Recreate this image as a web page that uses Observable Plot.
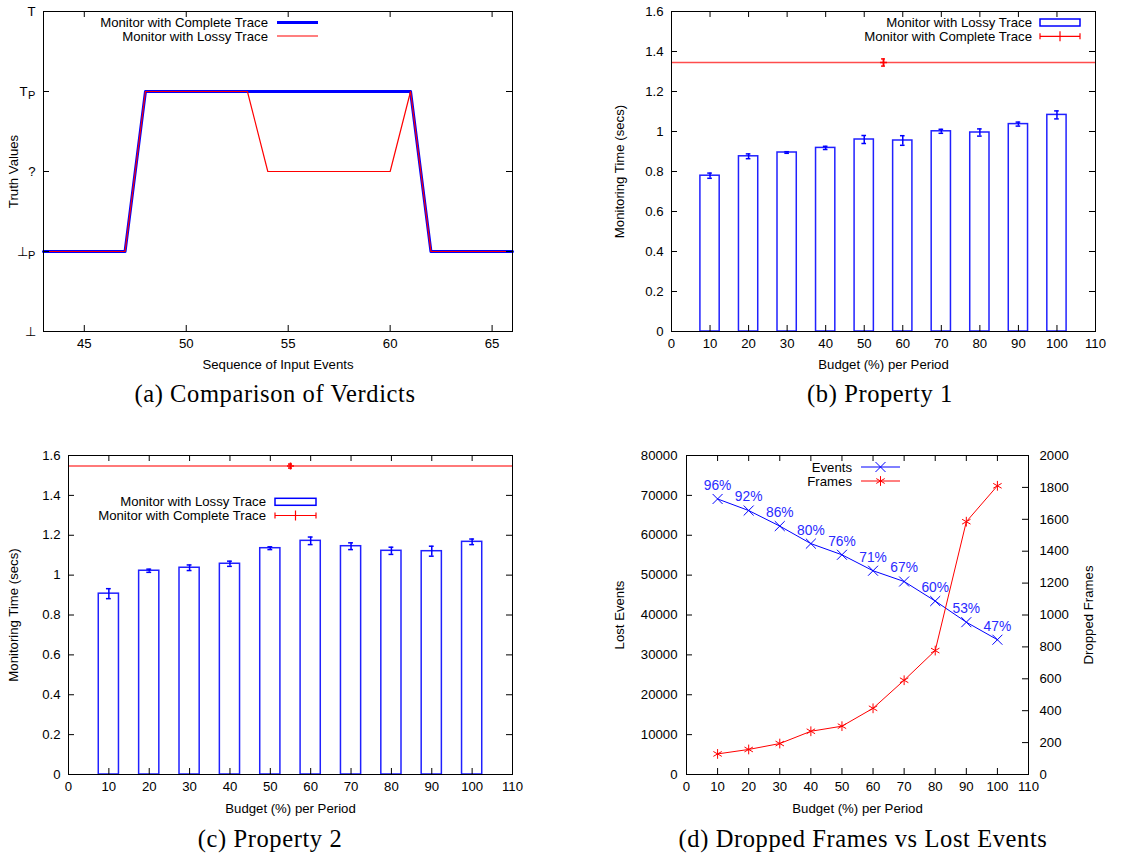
<!DOCTYPE html>
<html><head><meta charset="utf-8">
<script src="https://cdn.jsdelivr.net/npm/d3@7"></script>
<script src="https://cdn.jsdelivr.net/npm/@observablehq/plot@0.6"></script>
<style>
body{margin:0;background:#fff;}
#root{position:relative;width:1146px;height:855px;background:#fff;font-family:"Liberation Sans",Arial,sans-serif;}
.cap{position:absolute;font-family:"Liberation Serif","Times New Roman",serif;font-size:24.5px;letter-spacing:0.6px;transform:translate(-50%,-50%);white-space:nowrap;color:#000;}
</style></head><body><div id="root"></div>
<script>
// ---------- data ----------
// (a) verdicts
const verdictTickValues = [0, 1, 2, 3, 4];
const verdictTickMain = ["⊥", "⊥", "?", "T", "T"];
const verdictTickSub = ["", "P", "", "P", ""];
const eventTicks = [45, 50, 55, 60, 65];
const completeEvents = [43, 47, 48, 61, 62, 66];
const completeVerdicts = [1, 1, 3, 3, 1, 1];
const lossyEvents = [43, 47, 48, 53, 54, 60, 61, 62, 66];
const lossyVerdicts = [1, 1, 3, 3, 2, 2, 3, 1, 1];
const seriesA = ["Monitor with Complete Trace", "Monitor with Lossy Trace"];

// (b),(c) monitoring time
const budgets = [10, 20, 30, 40, 50, 60, 70, 80, 90, 100];
const budgetTicks = [0, 10, 20, 30, 40, 50, 60, 70, 80, 90, 100, 110];
const timeTicks = [0, 0.2, 0.4, 0.6, 0.8, 1, 1.2, 1.4, 1.6];
const p1Lossy = [0.779, 0.876, 0.895, 0.918, 0.960, 0.955, 1.001, 0.995, 1.037, 1.083];
const p1LossyErr = [0.013, 0.012, 0.004, 0.008, 0.020, 0.024, 0.010, 0.018, 0.010, 0.020];
const p1Complete = [1.345];
const p1CompleteErr = [0.018];
const p2Lossy = [0.907, 1.022, 1.037, 1.057, 1.135, 1.172, 1.145, 1.122, 1.120, 1.167];
const p2LossyErr = [0.025, 0.008, 0.014, 0.013, 0.007, 0.019, 0.017, 0.018, 0.025, 0.014];
const p2Complete = [1.547];
const p2CompleteErr = [0.010];
const completeBudgetPos = [55];
const seriesBC = ["Monitor with Lossy Trace", "Monitor with Complete Trace"];

// (d) lost events vs dropped frames
const lostEvents = [69100, 66200, 62300, 57900, 55100, 51100, 48400, 43500, 38200, 33800];
const eventPct = ["96%", "92%", "86%", "80%", "76%", "71%", "67%", "60%", "53%", "47%"];
const droppedFrames = [129, 157, 194, 271, 303, 415, 591, 777, 1585, 1810];
const eventTicksD = [0, 10000, 20000, 30000, 40000, 50000, 60000, 70000, 80000];
const frameTicksD = [0, 200, 400, 600, 800, 1000, 1200, 1400, 1600, 1800, 2000];
const seriesD = ["Events", "Frames"];

const captions = ["(a) Comparison of Verdicts", "(b) Property 1", "(c) Property 2", "(d) Dropped Frames vs Lost Events"];
const axisTitles = {
  aX: "Sequence of Input Events", aY: "Truth Values",
  bX: "Budget (%) per Period", bY: "Monitoring Time (secs)",
  dY: "Lost Events", dY2: "Dropped Frames"
};

// ---------- helpers ----------
const FONT = '"Liberation Sans", Arial, Helvetica, sans-serif';
const FS = 13.2;
const BLUE = "#0000ff", RED = "#ff0000";
const root = document.getElementById("root");

function place(node, left, top) {
  node.style.position = "absolute";
  node.style.left = left + "px";
  node.style.top = top + "px";
  root.appendChild(node);
  return node;
}
function tickMarks(xT, yL, yR, iw, ih, len = 6) {
  return [
    Plot.ruleX(xT, {x: d => d, insetTop: ih - len, stroke: "black"}),
    Plot.ruleX(xT, {x: d => d, insetBottom: ih - len, stroke: "black"}),
    Plot.ruleY(yL, {y: d => d, insetRight: iw - len, stroke: "black"}),
    Plot.ruleY(yR, {y: d => d, insetLeft: iw - len, stroke: "black"})
  ];
}
function legend(svg, rows, textEnd, x1, x2) {
  const g = d3.select(svg).append("g").attr("font-family", FONT).attr("font-size", FS);
  for (const r of rows) {
    g.append("text").attr("x", textEnd).attr("y", r.y).attr("dy", "0.35em")
      .attr("text-anchor", "end").attr("fill", "black").text(r.label);
    r.sample(g, x1, x2, r.y);
  }
}
const lineSample = (color, w) => (g, x1, x2, y) =>
  g.append("line").attr("x1", x1).attr("x2", x2).attr("y1", y).attr("y2", y).attr("stroke", color).attr("stroke-width", w);
const boxSample = (g, x1, x2, y) =>
  g.append("rect").attr("x", x1).attr("y", y - 3.5).attr("width", x2 - x1).attr("height", 7)
    .attr("fill", "white").attr("stroke", BLUE).attr("stroke-width", 1.5);
const errSample = (g, x1, x2, y) => {
  const m = (x1 + x2) / 2;
  const s = [[x1, y, x2, y], [x1, y - 3, x1, y + 3], [x2, y - 3, x2, y + 3], [m, y - 5, m, y + 5]];
  for (const [a, b, c, d] of s)
    g.append("line").attr("x1", a).attr("y1", b).attr("x2", c).attr("y2", d).attr("stroke", RED).attr("stroke-width", 1.2);
};
const markerSample = (color, sym) => (g, x1, x2, y) => {
  lineSample(color, 1)(g, x1, x2, y);
  g.append("path").attr("d", d3.symbol(sym, 67)()).attr("transform", `translate(${(x1 + x2) / 2},${y})`)
    .attr("fill", "none").attr("stroke", color).attr("stroke-width", 1);
};
function caption(text, cx, cy) {
  const d = document.createElement("div");
  d.className = "cap"; d.textContent = text;
  d.style.left = cx + "px"; d.style.top = cy + "px";
  root.appendChild(d);
}
const style = {fontFamily: FONT, fontSize: FS + "px", background: "white", overflow: "visible", color: "black"};
const xTitle = (t, dy) => Plot.text([t], {frameAnchor: "bottom", dy, text: d => d, textAnchor: "middle", lineAnchor: "middle"});
const yTitle = (t, side, dx) => Plot.text([t], {frameAnchor: side, dx, rotate: -90, text: d => d, textAnchor: "middle", lineAnchor: "middle"});

// ---------- panel (a) ----------
{
  const W = 530, H = 380, m = {top: 11, right: 18, bottom: 49, left: 43};
  const iw = W - m.left - m.right, ih = H - m.top - m.bottom;
  const svg = Plot.plot({
    width: W, height: H, marginTop: m.top, marginRight: m.right, marginBottom: m.bottom, marginLeft: m.left,
    style, x: {domain: [43, 66]}, y: {domain: [0, 4], axis: null},
    marks: [
      Plot.line(completeEvents, {x: d => d, y: (d, i) => completeVerdicts[i], stroke: BLUE, strokeWidth: 3}),
      Plot.line(lossyEvents, {x: d => d, y: (d, i) => lossyVerdicts[i], stroke: RED, strokeWidth: 1.2}),
      Plot.frame({stroke: "black"}),
      ...tickMarks(eventTicks, verdictTickValues, verdictTickValues, iw, ih),
      Plot.axisX({ticks: eventTicks, tickSize: 0, tickPadding: 7, label: null, tickFormat: d => String(d)}),
      Plot.text(verdictTickValues, {y: d => d, text: (d, i) => verdictTickMain[i], frameAnchor: "left",
        dx: -8, textAnchor: "end", lineAnchor: "middle", filter: (d, i) => !verdictTickSub[i]}),
      Plot.text(verdictTickValues, {y: d => d, text: (d, i) => verdictTickMain[i], frameAnchor: "left",
        dx: -16, textAnchor: "end", lineAnchor: "middle", filter: (d, i) => !!verdictTickSub[i]}),
      Plot.text(verdictTickValues, {y: d => d, text: (d, i) => verdictTickSub[i], frameAnchor: "left",
        dx: -15.5, dy: 4, fontSize: 11, textAnchor: "start", lineAnchor: "middle", filter: (d, i) => !!verdictTickSub[i]}),
      xTitle(axisTitles.aX, 33),
      yTitle(axisTitles.aY, "left", -30)
    ]
  });
  place(svg, 0, 0);
  legend(svg, [
    {label: seriesA[0], y: 22.5, sample: lineSample(BLUE, 3)},
    {label: seriesA[1], y: 36, sample: lineSample(RED, 1.2)}
  ], 268, 277, 318);
}

// ---------- panels (b) and (c) ----------
function timePanel(vals, errs, comp, compErr, left, top, m, leg) {
  const W = left === 0 ? 530 : 556, H = 380;
  const iw = W - m.left - m.right, ih = H - m.top - m.bottom;
  const svg = Plot.plot({
    width: W, height: H, marginTop: m.top, marginRight: m.right, marginBottom: m.bottom, marginLeft: m.left,
    style, x: {domain: [0, 110]}, y: {domain: [0, 1.6]},
    marks: [
      Plot.ruleY(comp, {y: d => d, stroke: RED, strokeOpacity: 0.7, strokeWidth: 1.6}),
      Plot.rectY(budgets, {x1: d => d - 2.5, x2: d => d + 2.5, y1: 0, y2: (d, i) => vals[i],
        fill: "white", stroke: "#2020ff", strokeWidth: 1.5}),
      Plot.ruleX(budgets, {x: d => d, y1: (d, i) => vals[i] - errs[i], y2: (d, i) => vals[i] + errs[i], stroke: BLUE, strokeWidth: 1.5}),
      Plot.ruleY(budgets, {y: (d, i) => vals[i] - errs[i], x1: d => d - 0.6, x2: d => d + 0.6, stroke: BLUE, strokeWidth: 1.5}),
      Plot.ruleY(budgets, {y: (d, i) => vals[i] + errs[i], x1: d => d - 0.6, x2: d => d + 0.6, stroke: BLUE, strokeWidth: 1.5}),
      Plot.ruleX(completeBudgetPos, {x: d => d, y1: (d, i) => comp[i] - compErr[i], y2: (d, i) => comp[i] + compErr[i], stroke: RED, strokeWidth: 1.5}),
      Plot.ruleY(completeBudgetPos, {y: (d, i) => comp[i] - compErr[i], x1: d => d - 0.5, x2: d => d + 0.5, stroke: RED, strokeWidth: 1.5}),
      Plot.ruleY(completeBudgetPos, {y: (d, i) => comp[i] + compErr[i], x1: d => d - 0.5, x2: d => d + 0.5, stroke: RED, strokeWidth: 1.5}),
      Plot.dot(completeBudgetPos, {x: d => d, y: (d, i) => comp[i], symbol: "plus", r: 2.4, stroke: RED, strokeWidth: 1.5}),
      Plot.frame({stroke: "black"}),
      ...tickMarks(budgetTicks, timeTicks, timeTicks, iw, ih),
      Plot.axisX({ticks: budgetTicks, tickSize: 0, tickPadding: 7, label: null, tickFormat: d => String(d)}),
      Plot.axisY({ticks: timeTicks, tickSize: 0, tickPadding: 8, label: null, tickFormat: d => String(d)}),
      xTitle(axisTitles.bX, leg.xdy),
      yTitle(axisTitles.bY, "left", leg.ydx)
    ]
  });
  place(svg, left, top);
  legend(svg, [
    {label: seriesBC[0], y: leg.y1, sample: boxSample},
    {label: seriesBC[1], y: leg.y2, sample: errSample}
  ], leg.textEnd, leg.x1, leg.x2);
}
timePanel(p1Lossy, p1LossyErr, p1Complete, p1CompleteErr, 590, 0,
  {top: 11, right: 51, bottom: 49, left: 81},
  {y1: 22.5, y2: 36.3, textEnd: 442, x1: 450, x2: 490, ydx: -52, xdy: 33});
timePanel(p2Lossy, p2LossyErr, p2Complete, p2CompleteErr, 0, 440,
  {top: 15, right: 18, bottom: 46, left: 68},
  {y1: 61.8, y2: 75.5, textEnd: 266, x1: 275, x2: 316, ydx: -55, xdy: 34});

// ---------- panel (d) ----------
{
  const W = 556, H = 380, m = {top: 15, right: 118, bottom: 46, left: 96};
  const iw = W - m.left - m.right, ih = H - m.top - m.bottom;
  const k = 80000 / 2000; // right axis -> left axis
  const svg = Plot.plot({
    width: W, height: H, marginTop: m.top, marginRight: m.right, marginBottom: m.bottom, marginLeft: m.left,
    style, x: {domain: [0, 110]}, y: {domain: [0, 80000]},
    marks: [
      Plot.line(budgets, {x: d => d, y: (d, i) => lostEvents[i], stroke: BLUE, strokeWidth: 1}),
      Plot.dot(budgets, {x: d => d, y: (d, i) => lostEvents[i], symbol: "times", r: 4.6, stroke: BLUE, strokeWidth: 1}),
      Plot.line(budgets, {x: d => d, y: (d, i) => droppedFrames[i] * k, stroke: RED, strokeWidth: 1}),
      Plot.dot(budgets, {x: d => d, y: (d, i) => droppedFrames[i] * k, symbol: "asterisk", r: 4.6, stroke: RED, strokeWidth: 1}),
      Plot.text(budgets, {x: d => d, y: (d, i) => lostEvents[i], text: (d, i) => eventPct[i], dy: -13.5, fill: "#2a2aff", fontSize: 13.8}),
      Plot.frame({stroke: "black"}),
      ...tickMarks(budgetTicks, eventTicksD, frameTicksD.map(v => v * k), iw, ih),
      Plot.axisX({ticks: budgetTicks, tickSize: 0, tickPadding: 7, label: null, tickFormat: d => String(d)}),
      Plot.axisY({ticks: eventTicksD, anchor: "left", tickSize: 0, tickPadding: 9, label: null, tickFormat: d => String(d)}),
      Plot.axisY({ticks: frameTicksD.map(v => v * k), anchor: "right", tickSize: 0, tickPadding: 11, label: null, tickFormat: d => String(Math.round(d / k))}),
      xTitle(axisTitles.bX, 34),
      yTitle(axisTitles.dY, "left", -67),
      yTitle(axisTitles.dY2, "right", 60)
    ]
  });
  place(svg, 590, 440);
  legend(svg, [
    {label: seriesD[0], y: 27, sample: markerSample(BLUE, d3.symbolTimes)},
    {label: seriesD[1], y: 41, sample: markerSample(RED, d3.symbolAsterisk)}
  ], 262, 271, 310);
}

// ---------- captions ----------
caption(captions[0], 275, 394);
caption(captions[1], 880, 394);
caption(captions[2], 270, 839);
caption(captions[3], 863, 839);
</script></body></html>
